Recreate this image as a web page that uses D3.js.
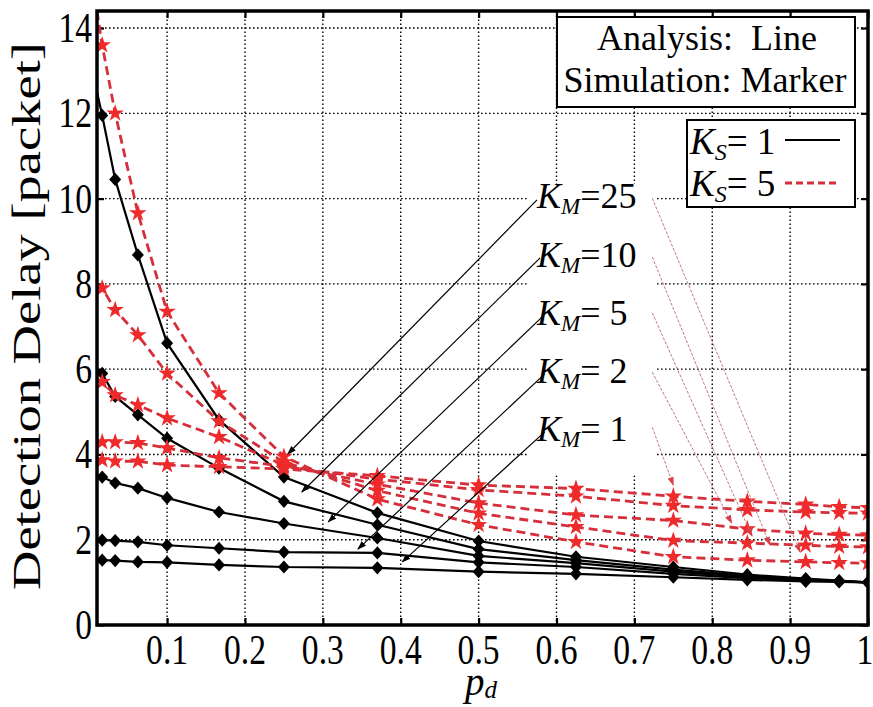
<!DOCTYPE html>
<html><head><meta charset="utf-8">
<script src="https://cdn.jsdelivr.net/npm/d3@7"></script>
<style>
body{margin:0;background:#fff}
svg{display:block}
text{font-family:"Liberation Serif","Times New Roman",serif;fill:#000}
</style>
</head><body>
<svg id="c" width="873" height="707"></svg>
<script>
// ---------------- data ----------------
const pd = [0.01, 1/60, 1/30, 1/16, 0.1, 1/6, 0.25, 0.37, 0.5, 0.625, 0.75, 0.845, 0.92, 0.963, 1];
const kmValues = ["25", "10", " 5", " 2", " 1"];
// K_S = 1 (black, analysis line + diamond markers)
const ks1_km25 = [12.5, 11.95, 10.45, 8.68, 6.61, 4.81, 3.47, 2.63, 1.97, 1.60, 1.36, 1.18, 1.09, 1.04, 1.00];
const ks1_km10 = [6.00, 5.90, 5.36, 4.93, 4.38, 3.68, 2.90, 2.35, 1.78, 1.52, 1.30, 1.15, 1.07, 1.03, 1.00];
const ks1_km5  = [3.52, 3.47, 3.33, 3.21, 2.98, 2.65, 2.38, 2.04, 1.62, 1.45, 1.25, 1.13, 1.06, 1.03, 1.00];
const ks1_km2  = [2.00, 1.99, 1.98, 1.95, 1.87, 1.80, 1.71, 1.69, 1.47, 1.36, 1.20, 1.10, 1.05, 1.02, 1.00];
const ks1_km1  = [1.53, 1.52, 1.51, 1.48, 1.47, 1.41, 1.36, 1.34, 1.25, 1.20, 1.12, 1.06, 1.02, 1.01, 1.00];
// K_S = 5 (red dashed + star markers)
const ks5_km25 = [14.4, 13.6, 12.0, 9.66, 7.35, 5.44, 3.95, 2.95, 2.35, 1.95, 1.60, 1.52, 1.48, 1.46, 1.45];
const ks5_km10 = [8.00, 7.90, 7.39, 6.80, 5.90, 4.78, 3.82, 3.15, 2.62, 2.30, 1.98, 1.92, 1.87, 1.84, 1.83];
const ks5_km5  = [5.78, 5.70, 5.39, 5.16, 4.85, 4.41, 3.75, 3.30, 2.86, 2.58, 2.45, 2.25, 2.15, 2.12, 2.11];
const ks5_km2  = [4.33, 4.29, 4.29, 4.27, 4.15, 3.92, 3.72, 3.42, 3.17, 3.02, 2.80, 2.70, 2.65, 2.63, 2.62];
const ks5_km1  = [3.88, 3.87, 3.84, 3.84, 3.75, 3.71, 3.66, 3.50, 3.28, 3.20, 3.02, 2.90, 2.83, 2.77, 2.75];
const xTicks = [0.1, 0.2, 0.3, 0.4, 0.5, 0.6, 0.7, 0.8, 0.9, 1];
const xTickLabels = ["0.1","0.2","0.3","0.4","0.5","0.6","0.7","0.8","0.9","1"];
const yTicks = [0, 2, 4, 6, 8, 10, 12, 14];
const yTickLabels = ["0","2","4","6","8","10","12","14"];
// annotation anchors (data units): label position, black arrow tip, red arrow tip
const labelPos   = [[0.575, 9.78], [0.575, 8.40], [0.575, 7.04], [0.575, 5.68], [0.575, 4.32]];
const blackFrom  = [[0.575, 9.97], [0.579, 8.61], [0.583, 7.25], [0.585, 5.89], [0.585, 4.53]];
const blackTo    = [[0.255, 4.01], [0.273, 3.12], [0.307, 2.42], [0.345, 1.78], [0.402, 1.48]];
const redFrom    = [[0.723, 10.01], [0.723, 8.63], [0.723, 7.32], [0.723, 5.93], [0.723, 4.64]];
const redTo      = [[0.913, 1.71], [0.874, 1.88], [0.851, 2.09], [0.825, 2.39], [0.750, 3.28]];

const blackSeries = [ks1_km25, ks1_km10, ks1_km5, ks1_km2, ks1_km1];
const redSeries   = [ks5_km25, ks5_km10, ks5_km5, ks5_km2, ks5_km1];

// ---------------- layout ----------------
const L = 97, R = 868, T = 11, B = 625;
const svg = d3.select("#c");
const x = d3.scaleLinear().domain([0.01, 1]).range([L, R]);
const y = d3.scaleLinear().domain([0, 14.4]).range([B, T]);

const defs = svg.append("defs");
defs.append("clipPath").attr("id","clip").append("rect")
  .attr("x", L).attr("y", T).attr("width", R-L).attr("height", B-T);
defs.append("marker").attr("id","arrB").attr("viewBox","0 0 10 10").attr("refX",9).attr("refY",5)
  .attr("markerWidth",9).attr("markerHeight",9).attr("markerUnits","userSpaceOnUse").attr("orient","auto")
  .append("path").attr("d","M0,1.5 L10,5 L0,8.5 Z").attr("fill","#000");
defs.append("marker").attr("id","arrR").attr("viewBox","0 0 10 10").attr("refX",9).attr("refY",5)
  .attr("markerWidth",9).attr("markerHeight",9).attr("markerUnits","userSpaceOnUse").attr("orient","auto")
  .append("path").attr("d","M0,1.5 L10,5 L0,8.5 Z").attr("fill","#d8404a");

svg.append("rect").attr("width",873).attr("height",707).attr("fill","#fff");

// grid
const grid = svg.append("g").attr("stroke","#000").attr("stroke-width",1.4)
  .attr("stroke-dasharray","1.6,2.4");
xTicks.filter(v => v < 1).forEach(v => grid.append("line")
  .attr("x1", x(v)).attr("x2", x(v)).attr("y1", B).attr("y2", T));
yTicks.filter(v => v > 0).forEach(v => grid.append("line")
  .attr("x1", L).attr("x2", R).attr("y1", y(v)).attr("y2", y(v)));

// axis ticks (inward, all four sides)
function styleAxis(g){ g.select(".domain").remove(); g.selectAll("line").attr("stroke","#000").attr("stroke-width",2.2); g.selectAll("text").remove(); }
svg.append("g").attr("transform",`translate(0,${B})`).call(d3.axisBottom(x).tickValues(xTicks).tickSize(-7).tickFormat("")).call(styleAxis);
svg.append("g").attr("transform",`translate(0,${T})`).call(d3.axisTop(x).tickValues(xTicks).tickSize(-7).tickFormat("")).call(styleAxis);
svg.append("g").attr("transform",`translate(${L},0)`).call(d3.axisLeft(y).tickValues(yTicks).tickSize(-7).tickFormat("")).call(styleAxis);
svg.append("g").attr("transform",`translate(${R},0)`).call(d3.axisRight(y).tickValues(yTicks).tickSize(-7).tickFormat("")).call(styleAxis);

// tick labels
const sx = 0.8;
svg.append("g").selectAll("text").data(xTicks).join("text")
  .attr("transform", d => `translate(${Math.min(x(d), 865)},664) scale(${sx},1)`)
  .attr("text-anchor","middle").attr("font-size",42)
  .text((d,i) => xTickLabels[i]);
svg.append("g").selectAll("text").data(yTicks).join("text")
  .attr("transform", d => `translate(92,${y(d)+14}) scale(${sx},1)`)
  .attr("text-anchor","end").attr("font-size",42)
  .text((d,i) => yTickLabels[i]);

// axis titles
svg.append("text").attr("transform","translate(40,316) rotate(-90) scale(1.33,1)")
  .attr("text-anchor","middle").attr("font-size",41).text("Detection Delay [packet]");
const xl = svg.append("text").attr("x",481).attr("y",695).attr("text-anchor","middle").attr("font-size",39);
xl.append("tspan").attr("font-style","italic").text("p");
xl.append("tspan").attr("font-style","italic").attr("font-size",25).attr("dy",3).text("d");

// ---------------- plot marks ----------------
const plot = svg.append("g").attr("clip-path","url(#clip)");
const line = d3.line().x((d,i) => x(pd[i])).y(d => y(d));

const diamond = { draw(ctx, size){ const w = 6, h = 6.6; ctx.moveTo(0,-h); ctx.lineTo(w,0); ctx.lineTo(0,h); ctx.lineTo(-w,0); ctx.closePath(); } };

blackSeries.forEach(s => {
  plot.append("path").attr("d", line(s)).attr("fill","none").attr("stroke","#000").attr("stroke-width",2.2);
});
blackSeries.forEach(s => {
  plot.append("g").selectAll("path").data(s.slice(1)).join("path")
    .attr("transform",(d,i) => `translate(${x(pd[i+1])},${y(d)})`)
    .attr("d", d3.symbol().type(diamond)()).attr("fill","#000");
});
redSeries.forEach(s => {
  plot.append("path").attr("d", line(s)).attr("fill","none").attr("stroke","#d42f3a")
    .attr("stroke-width",2.8).attr("stroke-dasharray","9,5");
});
redSeries.forEach(s => {
  plot.append("g").selectAll("path").data(s.slice(1)).join("path")
    .attr("transform",(d,i) => `translate(${x(pd[i+1])},${y(d)})`)
    .attr("d", d3.symbol().type(d3.symbolStar).size(95)()).attr("fill","#ee2a2a");
});

// ---------------- annotations ----------------
const ann = svg.append("g");
labelPos.forEach((p,i) => {
  ann.append("rect").attr("x", x(p[0]) - 10).attr("y", y(p[1]) - 24).attr("width",128).attr("height",58.5).attr("fill","#fff");
});
labelPos.forEach((p,i) => {
  const t = ann.append("text").attr("x", x(p[0])).attr("y", y(p[1])).attr("font-size",36).attr("xml:space","preserve");
  t.append("tspan").attr("font-style","italic").text("K");
  t.append("tspan").attr("font-style","italic").attr("font-size",23).attr("dy",6).text("M");
  t.append("tspan").attr("dy",-6).text("=" + kmValues[i]);
});
blackFrom.forEach((p,i) => {
  ann.append("line").attr("x1",x(p[0])).attr("y1",y(p[1])).attr("x2",x(blackTo[i][0])).attr("y2",y(blackTo[i][1]))
    .attr("stroke","#000").attr("stroke-width",1.2).attr("marker-end","url(#arrB)");
});
redFrom.forEach((p,i) => {
  ann.append("line").attr("x1",x(p[0])).attr("y1",y(p[1])).attr("x2",x(redTo[i][0])).attr("y2",y(redTo[i][1]))
    .attr("stroke","#c07a86").attr("stroke-width",1).attr("stroke-dasharray","3,1.5").attr("marker-end","url(#arrR)");
});

// ---------------- legends ----------------
const lg1 = svg.append("g");
lg1.append("rect").attr("x",557).attr("y",17).attr("width",298).attr("height",90).attr("fill","#fff").attr("stroke","#000").attr("stroke-width",2);
lg1.append("text").attr("x",707).attr("y",50).attr("text-anchor","middle").attr("font-size",36).attr("xml:space","preserve").text("Analysis:  Line");
lg1.append("text").attr("x",705).attr("y",92).attr("text-anchor","middle").attr("font-size",36).text("Simulation: Marker");

const lg2 = svg.append("g");
lg2.append("rect").attr("x",687).attr("y",120).attr("width",168).attr("height",87).attr("fill","#fff").attr("stroke","#000").attr("stroke-width",2);
[["1",154,140,"#000",null,2.2],["5",196,183,"#d42f3a","7,4",2.8]].forEach(e => {
  const t = lg2.append("text").attr("x",690).attr("y",e[1]).attr("font-size",37).attr("xml:space","preserve");
  t.append("tspan").attr("font-style","italic").text("K");
  t.append("tspan").attr("font-style","italic").attr("font-size",24).attr("dy",6).text("S");
  t.append("tspan").attr("dy",-6).text("= " + e[0]);
  lg2.append("line").attr("x1",785).attr("x2",840).attr("y1",e[2]).attr("y2",e[2])
    .attr("stroke",e[3]).attr("stroke-width",e[5]).attr("stroke-dasharray",e[4]);
});

// axes box
svg.append("rect").attr("x",L).attr("y",T).attr("width",R-L).attr("height",B-T)
  .attr("fill","none").attr("stroke","#000").attr("stroke-width",3.5);
</script>
</body></html>
